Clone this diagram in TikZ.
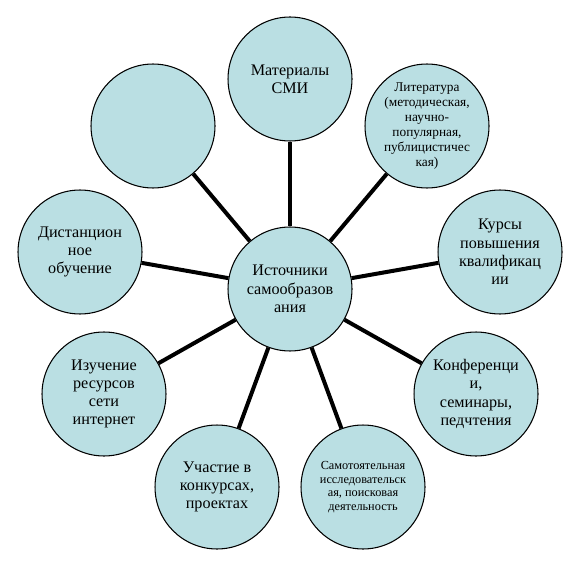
\documentclass[tikz,border=0pt]{standalone}
\usepackage{fontspec}
\setmainfont{Liberation Serif}
\usepackage{tikz}
\definecolor{bubblefill}{RGB}{186,223,227}
\tikzstyle{bubble} = [circle, draw=black, fill=bubblefill, line width=0.6pt,
    minimum size=2.48cm, inner sep=0pt, align=center,
    font=\fontsize{9.2}{10.4}\selectfont]
\tikzstyle{smalltext} = [font=\fontsize{7.6}{8.6}\selectfont]
\tikzstyle{tinytext} = [font=\fontsize{7}{7.8}\selectfont]
\tikzstyle{spoke} = [line width=0.08cm]

\begin{document}
\begin{tikzpicture}[x=0.02cm, y=-0.02cm]
    \useasboundingbox (0,0) rectangle (577,577);
    %centre
    \node[bubble] (src) at (290,289) {Источники\\самообразов\\ания};
    %upper ring
    \node[bubble] (smi) at (290,79) {Материалы\\СМИ};
    \node[bubble, smalltext] (lit) at (427,126)
        {Литература\\(методическая,\\научно-\\популярная,\\публицистичес\\кая)};
    \node[bubble] (kurs) at (500,252) {Курсы\\повышения\\квалификац\\ии};
    \node[bubble] (blank) at (153,126) {};
    \node[bubble] (dist) at (80,252) {Дистанцион\\ное\\обучение};
    %lower ring
    \node[bubble] (izuch) at (104,394) {Изучение\\ресурсов\\сети\\интернет};
    \node[bubble] (konf) at (476,394) {Конференци\\и,\\семинары,\\педчтения};
    \node[bubble] (uch) at (217,487) {Участие в\\конкурсах,\\проектах};
    \node[bubble, tinytext] (samo) at (363,487)
        {Самотоятельная\\исследовательск\\ая, поисковая\\деятельность};
    %spokes
    \draw[spoke] (src) -- (smi);
    \draw[spoke] (src) -- (lit);
    \draw[spoke] (src) -- (kurs);
    \draw[spoke] (src) -- (konf);
    \draw[spoke] (src) -- (samo);
    \draw[spoke] (src) -- (uch);
    \draw[spoke] (src) -- (izuch);
    \draw[spoke] (src) -- (dist);
    \draw[spoke] (src) -- (blank);
\end{tikzpicture}
\end{document}
